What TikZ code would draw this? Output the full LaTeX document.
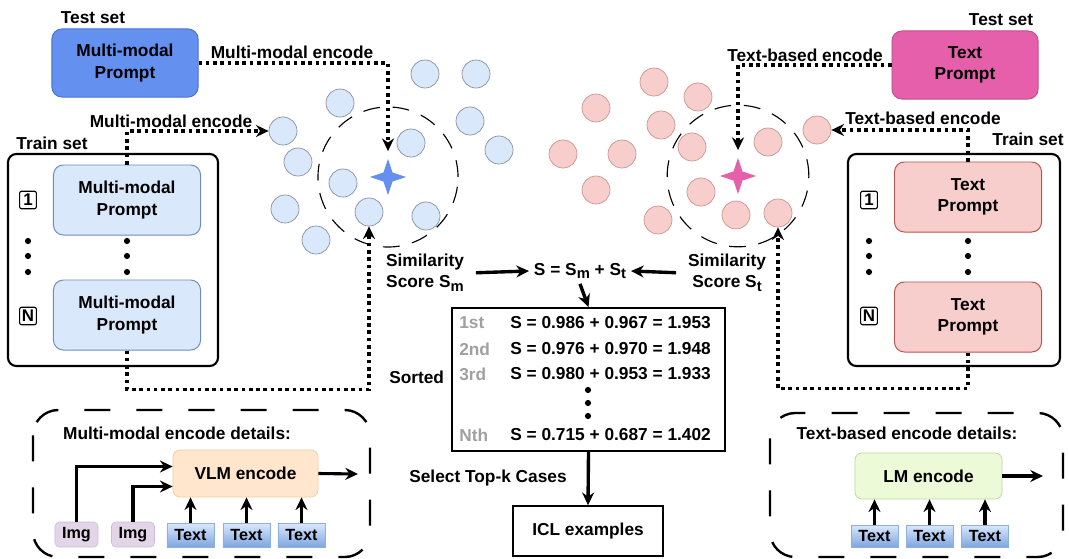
\documentclass[tikz,border=0pt]{standalone}
\usepackage{fontspec}
\setmainfont{Liberation Sans}
\usepackage{tikz}
\usetikzlibrary{shapes.geometric,arrows.meta,calc}
\tikzset{>={Stealth[length=9pt,width=8.5pt]}}
\usepackage{xcolor}
\definecolor{mmtest}{HTML}{6490F0}
\definecolor{mmtestline}{HTML}{4A72CC}
\definecolor{txttest}{HTML}{E65FAA}
\definecolor{txttestline}{HTML}{C24F8E}
\definecolor{mmfill}{HTML}{DAE8FC}
\definecolor{mmline}{HTML}{6C8EBF}
\definecolor{txtfill}{HTML}{F8CECC}
\definecolor{txtline}{HTML}{B85450}
\definecolor{mmcirc}{HTML}{8890A0}
\definecolor{txtcirc}{HTML}{C89590}
\definecolor{vlmfill}{HTML}{FFE6CC}
\definecolor{vlmline}{HTML}{F2CDA0}
\definecolor{lmfill}{HTML}{EDFAD8}
\definecolor{lmline}{HTML}{B9D99A}
\definecolor{imgfill}{HTML}{E1D5E7}
\definecolor{imgline}{HTML}{CDBBD8}
\definecolor{textinbot}{HTML}{7EA6E0}
\definecolor{textinline}{HTML}{8FB0DC}
\definecolor{rankgray}{HTML}{A0A0A0}
\tikzstyle{test mm}=[rectangle,rounded corners=7pt,draw=mmtestline,fill=mmtest,
minimum width=3.65cm,minimum height=1.7cm,align=center,line width=0.7pt]
\tikzstyle{test txt}=[test mm,draw=txttestline,fill=txttest]
\tikzstyle{train mm}=[rectangle,rounded corners=7pt,draw=mmline,fill=mmfill,
minimum width=3.675cm,minimum height=1.75cm,align=center,line width=0.7pt]
\tikzstyle{train txt}=[train mm,draw=txtline,fill=txtfill]
\tikzstyle{train set}=[rectangle,rounded corners=6pt,draw,line width=1.5pt,
minimum width=5.25cm,minimum height=5.3cm]
\tikzstyle{index}=[rectangle,rounded corners=1.5pt,draw,line width=0.8pt,inner sep=0pt,
minimum width=0.42cm,minimum height=0.44cm,font=\bfseries\fontsize{12}{12}\selectfont]
\tikzstyle{mm dot}=[circle,draw=mmcirc,fill=mmfill,minimum size=0.7cm,inner sep=0pt,line width=0.5pt]
\tikzstyle{txt dot}=[mm dot,draw=txtcirc,fill=txtfill]
\tikzstyle{query star}=[star,star points=4,star point ratio=2.8,minimum size=0.9cm,inner sep=0pt]
\tikzstyle{sim circle}=[dash pattern=on 12pt off 9pt,line width=0.8pt]
\tikzstyle{enc line}=[->,line width=2.6pt,dash pattern=on 2.6pt off 2.6pt]
\tikzstyle{score arrow}=[->,line width=2.4pt]
\tikzstyle{plain box}=[rectangle,draw,line width=1.2pt]
\tikzstyle{detail frame}=[line width=1.7pt,dash pattern=on 18.5pt off 18.5pt,rounded corners=18pt]
\tikzstyle{encoder}=[rectangle,rounded corners=5pt,minimum width=3.625cm,minimum height=1.175cm,line width=0.5pt]
\tikzstyle{img in}=[rectangle,rounded corners=3pt,draw=imgline,fill=imgfill,minimum width=1.075cm,
minimum height=0.625cm,inner sep=0pt,font=\bfseries\fontsize{11.5}{12}\selectfont]
\tikzstyle{text in}=[rectangle,draw=textinline,top color=mmfill,bottom color=textinbot,minimum width=1.175cm,
minimum height=0.6cm,inner sep=0pt,font=\bfseries\fontsize{11.5}{12}\selectfont]
\tikzstyle{in arrow}=[->,line width=2.2pt]
\tikzstyle{row}=[anchor=west,inner sep=0pt]
\tikzstyle{rank}=[row,text=rankgray]
\newcommand{\lowsub}[1]{\raisebox{-0.4ex}{\fontsize{10.5}{11}\selectfont #1}}

\begin{document}
\begin{tikzpicture}[x=0.025cm,y=-0.025cm,font=\bfseries\fontsize{12.3}{15}\selectfont]
  \useasboundingbox (0,0) rectangle (1069,558);

  % TEST SET
  \node (mmtestlbl) at (93,18) {Test set};
  \node[test mm] (mmtest) at (125,63) {Multi-modal\\Prompt};
  \node (txttestlbl) at (1001,20) {Test set};
  \node[test txt] (txttest) at (965,65) {Text\\Prompt};

  % TRAIN SET left
  \node (mmtrainlbl) at (52,143) {Train set};
  \node[train set] (mmtrain) at (113,260) {};
  \node[train mm] (mm1) at (127,200) {Multi-modal\\Prompt};
  \node[train mm] (mmN) at (127,315) {Multi-modal\\Prompt};
  \node[index] (mmi1) at (28,200) {1};
  \node[index] (mmiN) at (28,316) {N};
  \foreach \xx in {28,127}{
    \foreach \yy in {241,256,272}{
      \fill (\xx,\yy) circle[radius=2.2pt];
    }
  }

  % TRAIN SET right
  \node (txttrainlbl) at (1028,139) {Train set};
  \node[train set,minimum width=5.3cm] (txttrain) at (954,260) {};
  \node[train txt] (txt1) at (968,197) {Text\\Prompt};
  \node[train txt] (txtN) at (968,317) {Text\\Prompt};
  \node[index] (txti1) at (869,200) {1};
  \node[index] (txtiN) at (869,316) {N};
  \foreach \xx in {869,968}{
    \foreach \yy in {241,256,272}{
      \fill (\xx,\yy) circle[radius=2.2pt];
    }
  }

  % EMBEDDINGS
  \foreach \xx/\yy [count=\i] in {340/103,283/131,298/162,285/209,316/240,343/183,369/212,
    411/143,426/216,425/74,476/74,470/121,499/150}{
    \node[mm dot] (bc\i) at (\xx,\yy) {};
  }
  \foreach \xx/\yy [count=\i] in {654/82,698/97,596/108,661/125,692/147,563/154,622/154,
    768/142,596/190,701/192,658/220,736/215,778/213,817/130}{
    \node[txt dot] (pc\i) at (\xx,\yy) {};
  }
  \node[query star,fill=mmtest] (bstar) at (388,177) {};
  \node[query star,fill=txttest] (pstar) at (738,176) {};
  \draw[sim circle] (bstar) circle (1.75cm);
  \draw[sim circle] (pstar) circle (1.77cm);

  % ENCODE
  \node (mmenc1) at (292,52) {Multi-modal encode};
  \node (mmenc2) at (171,121) {Multi-modal encode};
  \node (txtenc1) at (805,55) {Text-based encode};
  \node (txtenc2) at (923,118) {Text-based encode};
  \draw[enc line,shorten >=5pt] (mmtest.east) -| (bstar.north);
  \draw[enc line] (mm1.north) |- (bc2.west);
  \draw[enc line] (mmN.south) -- ++(0,39) -| (bc7.south);
  \draw[enc line,shorten >=5pt] (txttest.west) -| (pstar.north);
  \draw[enc line] (txt1.north) |- (pc14.east);
  \draw[enc line] (txtN.south) -- ++(0,36) -| (pc13.south);

  % SCORES
  \node[align=center] (simm) at (425,273) {Similarity\\Score S\lowsub{m}};
  \node[align=center] (simt) at (727,273) {Similarity\\Score S\lowsub{t}};
  \node (ssum) at (580,271) {S = S\lowsub{m} + S\lowsub{t}};
  \draw[score arrow,shorten <=5pt] (simm.east) -- (ssum.west);
  \draw[score arrow,shorten <=5pt] (simt.west) -- (ssum.east);

  % SORTED
  \node[plain box,minimum width=6.825cm,minimum height=3.575cm] (sortbox) at (588.5,379.5) {};
  \draw[score arrow] (ssum.south) -- (sortbox.north);
  \node[anchor=east] (sortlbl) at (449,377) {Sorted};
  \foreach \rk/\eq/\yy [count=\i] in {1st/{S = 0.986 + 0.967 = 1.953}/323,
    2nd/{S = 0.976 + 0.970 = 1.948}/349,3rd/{S = 0.980 + 0.953 = 1.933}/374,
    Nth/{S = 0.715 + 0.687 = 1.402}/435}{
    \node[rank] (rk\i) at (459,\yy) {\rk};
    \node[row] (eq\i) at (510,\yy) {\eq};
  }
  \foreach \yy in {390,403,416}{
    \fill (588,\yy) circle[radius=2.2pt];
  }
  \node[plain box,minimum width=3.75cm,minimum height=1.25cm] (iclbox) at (588,531) {ICL examples};
  \draw[score arrow] (sortbox.south) -- (iclbox.north);
  \node (selectlbl) at (488,478) {Select Top-k Cases};

  % DETAILS left
  \draw[detail frame] (33,410) rectangle (370,557);
  \node (mmdetail) at (177,433) {Multi-modal encode details:};
  \node[encoder,draw=vlmline,fill=vlmfill] (vlm) at (245.5,473.5) {VLM encode};
  \coordinate (vlmout) at (358,474);
  \draw[in arrow] (vlm.east) -- (vlmout);
  \node[img in] (img1) at (76.5,534.5) {Img};
  \node[img in] (img2) at (133,534.5) {Img};
  \draw[in arrow] (img1.north) |- ($(vlm.west)+(0,-7)$);
  \draw[in arrow] (img2.north) |- ($(vlm.west)+(0,13)$);
  \foreach \xx [count=\i] in {190.5,246.5,301.5}{
    \node[text in] (mmt\i) at (\xx,535) {Text};
    \draw[in arrow] (mmt\i.north) -- (mmt\i.north |- vlm.south);
  }

  % DETAILS right
  \draw[detail frame] (770,413) rectangle (1063,557);
  \node (txtdetail) at (907,433) {Text-based encode details:};
  \node[encoder,draw=lmline,fill=lmfill,minimum width=3.675cm,minimum height=1.15cm] (lm) at (928.5,476) {LM encode};
  \coordinate (lmout) at (1043,476);
  \draw[in arrow] (lm.east) -- (lmout);
  \foreach \xx [count=\i] in {874.5,929.5,985}{
    \node[text in,minimum height=0.55cm] (txtt\i) at (\xx,536) {Text};
    \draw[in arrow] (txtt\i.north) -- (txtt\i.north |- lm.south);
  }

\end{tikzpicture}
\end{document}
